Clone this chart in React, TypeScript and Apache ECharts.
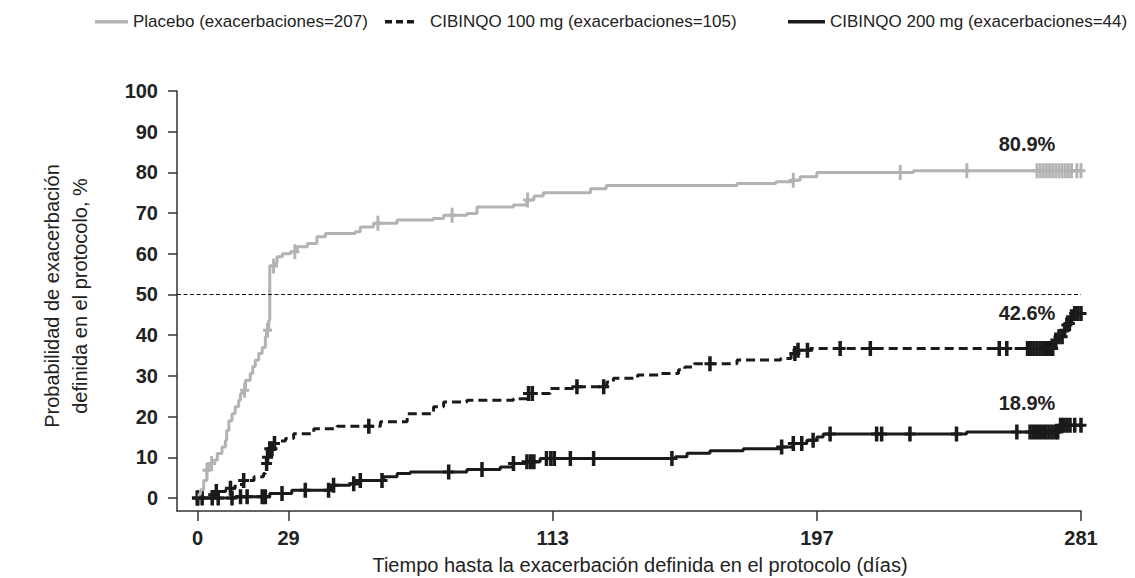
import React, { useEffect, useRef } from "react";
import * as echarts from "echarts";

// ---- Axis ticks ----
const xTicks = [0, 29, 113, 197, 281];
const yTicks = [0, 10, 20, 30, 40, 50, 60, 70, 80, 90, 100];

// ---- Series names / annotations ----
const seriesNames = [
  "Placebo (exacerbaciones=207)",
  "CIBINQO 100 mg (exacerbaciones=105)",
  "CIBINQO 200 mg (exacerbaciones=44)",
];
const endLabels = ["80.9%", "42.6%", "18.9%"];
const xTitle = "Tiempo hasta la exacerbación definida en el protocolo (días)";
const yTitle = "Probabilidad de exacerbación\ndefinida en el protocolo, %";
const refLevel = 50;

// ---- Kaplan-Meier steps: [day, cumulative probability % after event] ----
const placeboSteps: [number, number][] = [
  [0, 0], [0.5, 1], [1, 2], [2, 4.3], [3, 6.8], [3.6, 8.5], [4.7, 9.3], [6.3, 10.9],
  [7.8, 12.5], [8.9, 14.2], [9.3, 16.6], [10, 19], [11, 20.7], [12, 22.4], [13.1, 24],
  [13.7, 25.7], [14.7, 26.5], [15.3, 28.9], [16.8, 30.6], [17.6, 32.3], [18.4, 33.9],
  [19.5, 35.5], [20.6, 37], [21.6, 39.6], [22, 41.2], [22.7, 43.7], [23, 57],
  [24.3, 57.6], [25.3, 59.3], [27, 60], [29.6, 60.5], [31.7, 61.7], [35, 62.5],
  [38, 64.2], [40.7, 65], [50.2, 65.4], [51.8, 66.6], [56, 67.5], [63.5, 68.3],
  [75, 68.7], [78.3, 69.5], [85.7, 69.9], [88.9, 71.5], [100.5, 72], [104.8, 73.2],
  [107, 74.2], [110, 75], [125, 76], [130, 76.8], [171.6, 77.3], [184, 77.7],
  [189.5, 78.1], [191.7, 78.9], [197, 80], [227.7, 80.4], [281, 80.4],
];
const cib100Steps: [number, number][] = [
  [0, 0], [3, 0.8], [6, 1.6], [9, 2.4], [12, 3.3], [14.7, 4.3], [18, 5.2], [21, 6],
  [21.6, 7.2], [22, 8.5], [22.2, 10], [22.7, 12.1], [24.3, 13.4], [26.4, 14], [28, 14.6],
  [30.6, 15.8], [37, 17], [44.4, 17.6], [58.2, 18.7], [66.7, 20.7], [75.1, 22.4],
  [78.3, 23.6], [85.7, 24], [100.5, 24.4], [104.8, 25.7], [112.2, 26.9], [120.7, 27.3],
  [130.2, 28.5], [132.3, 29.4], [140, 30.2], [147, 30.6], [153, 31.5], [155, 32.2],
  [158, 33], [171.6, 33.9], [185.5, 34.3], [188.8, 35.5], [190.6, 36.3], [194.9, 36.7],
  [272.7, 38.8], [274, 39.6], [275.4, 41.2], [276.5, 42.5], [277, 42.9], [278, 44.5],
  [278.5, 45.3], [281, 45.3],
];
const cib200Steps: [number, number][] = [
  [0, 0], [12, 0.3], [23, 1.1], [30, 1.9], [42.3, 2.7], [43.3, 3.1], [48.6, 3.5],
  [51.8, 4.3], [59.2, 5.2], [63.5, 6], [67.7, 6.4], [85.7, 7], [96.3, 7.6], [100.5, 8.5],
  [104.8, 8.9], [109, 9.7], [152, 10.1], [155.7, 11], [163, 11.6], [173.6, 12.1],
  [185.3, 12.5], [189.5, 13.4], [193.8, 14.2], [197, 15], [199, 15.7], [244.6, 16.2],
  [274.3, 17.9], [281, 17.9],
];

// ---- Censoring days ----
const placeboCensor = [
  0.3, 3, 4.5, 15, 22.3, 24.2, 31, 57.4, 81, 105, 189.5, 223.5, 244.7,
  267, 268, 269, 270, 271, 272, 273, 274, 275, 276, 277, 278, 279.7, 281,
];
const cib100Censor = [
  0, 1.5, 6, 10.5, 14.7, 22, 22.3, 23, 23.7, 24.5, 54.5, 105.3, 106.5, 120.7, 129.2,
  163, 190, 191, 194, 204.4, 214, 255, 257.4, 264, 265, 266, 267, 268, 269, 270, 271,
  272, 273, 274, 275, 275.8, 276.5, 277.3, 278, 279, 280, 281,
];
const cib200Censor = [
  0, 4.7, 6.6, 11, 13.7, 15.8, 20.6, 21.6, 26.9, 34.3, 41.7, 43.3, 49.7, 51.8, 58.7,
  79.9, 90.5, 100.5, 104.8, 106, 107, 111, 112.4, 113.5, 118.6, 126, 150.9, 185.8,
  189.5, 192.2, 195.8, 201.2, 216, 217.6, 226.6, 241.4, 260.6, 264.8, 265.8, 266.8,
  267.8, 268.8, 269.8, 270.8, 271.8, 272.8, 273.6, 274.5, 275.4, 276.5, 277.5, 279, 281,
];

function levelAt(steps: [number, number][], t: number): number {
  let v = steps[0][1];
  for (const [d, y] of steps) {
    if (d <= t) v = y;
    else break;
  }
  return v;
}

const CROSS = "path://M3.4,0H6.6V6.4H10V9.6H6.6V16H3.4V9.6H0V6.4H3.4Z";
const GRAY = "#b3b3b3";
const BLACK = "#1a1a1a";
const FONT = "'Liberation Sans', Arial, Helvetica, sans-serif";

export default function App() {
  const ref = useRef<HTMLDivElement>(null);

  useEffect(() => {
    if (!ref.current) return;
    const chart = echarts.init(ref.current, undefined, { renderer: "svg" });

    const lineSeries = (name: string, steps: [number, number][], color: string, type: any, extra: any = {}) => ({
      name,
      type: "line",
      step: "end",
      data: steps,
      showSymbol: false,
      symbol: "none",
      lineStyle: { color, width: 3, type },
      silent: true,
      ...extra,
    });
    const censorSeries = (name: string, steps: [number, number][], days: number[], color: string, size: number[]) => ({
      name: name + " censor",
      type: "scatter",
      data: days.map((d) => [d, levelAt(steps, d)]),
      symbol: CROSS,
      symbolSize: size,
      itemStyle: { color, opacity: 1 },
      silent: true,
    });

    chart.setOption({
      animation: false,
      backgroundColor: "#ffffff",
      grid: { left: 177, right: 54, top: 91, bottom: 67 },
      xAxis: {
        type: "value",
        min: -6.5,
        max: 281,
        axisLine: { onZero: false, lineStyle: { color: "#333", width: 1.5 } },
        axisTick: { show: true, customValues: xTicks, length: 10, lineStyle: { color: "#333", width: 1.5 } },
        axisLabel: {
          customValues: xTicks,
          margin: 17,
          fontFamily: FONT,
          fontSize: 20,
          fontWeight: "bold",
          color: "#222",
        },
        splitLine: { show: false },
      },
      yAxis: {
        type: "value",
        min: -3.2,
        max: 100,
        axisLine: { show: true, onZero: false, lineStyle: { color: "#333", width: 1.5 } },
        axisTick: { show: true, customValues: yTicks, length: 9, lineStyle: { color: "#333", width: 1.5 } },
        axisLabel: {
          customValues: yTicks,
          margin: 19,
          fontFamily: FONT,
          fontSize: 20,
          fontWeight: "bold",
          color: "#222",
        },
        splitLine: { show: false },
      },
      series: [
        lineSeries(seriesNames[0], placeboSteps, GRAY, "solid", {
          markLine: {
            silent: true,
            symbol: "none",
            label: { show: false },
            lineStyle: { color: "#111", width: 1.2, type: [4, 2.5] },
            data: [{ yAxis: refLevel }],
          },
        }),
        censorSeries(seriesNames[0], placeboSteps, placeboCensor, GRAY, [9, 15]),
        lineSeries(seriesNames[1], cib100Steps, BLACK, [9, 5]),
        censorSeries(seriesNames[1], cib100Steps, cib100Censor, BLACK, [11, 15]),
        lineSeries(seriesNames[2], cib200Steps, BLACK, "solid"),
        censorSeries(seriesNames[2], cib200Steps, cib200Censor, BLACK, [11, 15]),
      ],
      graphic: [
        // legend
        { type: "line", shape: { x1: 95, y1: 21.7, x2: 128, y2: 21.7 }, style: { stroke: GRAY, lineWidth: 3.5 } },
        { type: "text", x: 133, y: 21.7, style: { text: seriesNames[0], font: `17px ${FONT}`, fill: "#222", verticalAlign: "middle" } },
        { type: "line", shape: { x1: 385, y1: 21.7, x2: 414, y2: 21.7 }, style: { stroke: BLACK, lineWidth: 3.5, lineDash: [7, 4] } },
        { type: "text", x: 430, y: 21.7, style: { text: seriesNames[1], font: `17px ${FONT}`, fill: "#222", verticalAlign: "middle" } },
        { type: "line", shape: { x1: 788, y1: 21.7, x2: 825, y2: 21.7 }, style: { stroke: BLACK, lineWidth: 3.5 } },
        { type: "text", x: 830, y: 21.7, style: { text: seriesNames[2], font: `17px ${FONT}`, fill: "#222", verticalAlign: "middle" } },
        // end labels
        { type: "text", x: 1027, y: 143.5, style: { text: endLabels[0], font: `bold 20px ${FONT}`, fill: "#222", align: "center", verticalAlign: "middle" } },
        { type: "text", x: 1027, y: 313, style: { text: endLabels[1], font: `bold 20px ${FONT}`, fill: "#222", align: "center", verticalAlign: "middle" } },
        { type: "text", x: 1027, y: 403, style: { text: endLabels[2], font: `bold 20px ${FONT}`, fill: "#222", align: "center", verticalAlign: "middle" } },
        // axis titles
        { type: "text", x: 640, y: 565, style: { text: xTitle, font: `20px ${FONT}`, fill: "#222", align: "center", verticalAlign: "middle" } },
        {
          type: "text",
          x: 66,
          y: 296,
          rotation: Math.PI / 2,
          style: { text: yTitle, font: `20px ${FONT}`, fill: "#222", align: "center", verticalAlign: "middle", lineHeight: 28 },
        },
      ],
    });

    return () => chart.dispose();
  }, []);

  return (
    <div
      ref={ref}
      style={{ position: "fixed", left: 0, top: 0, width: 1135, height: 578, background: "#fff" }}
    />
  );
}
